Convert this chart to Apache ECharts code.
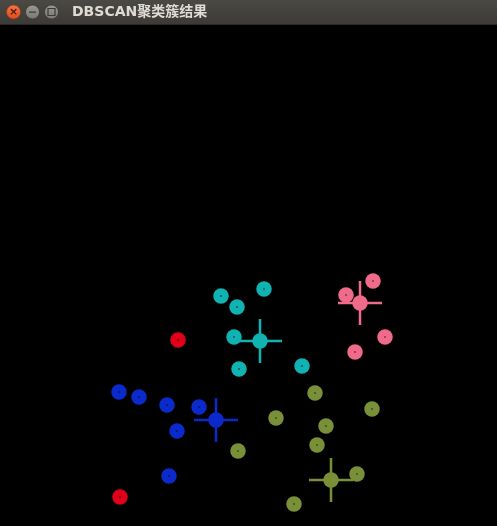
<!DOCTYPE html>
<html>
<head>
<meta charset="utf-8">
<script src="https://cdn.jsdelivr.net/npm/echarts@6/dist/echarts.min.js"></script>
<style>
html,body{margin:0;padding:0;background:#000;}
#chart{width:497px;height:526px;}
</style>
</head>
<body>
<div id="chart"></div>
<script>
// Window title
var windowTitle = 'DBSCAN聚类簇结果';

// Cluster points [x, y]
var cluster1 = [[221,296],[237,307],[264,289],[234,337],[239,369],[302,366]];
var cluster2 = [[373,281],[346,295],[385,337],[355,352]];
var cluster3 = [[119,392],[139,397],[167,405],[199,407],[177,431],[169,476]];
var cluster4 = [[315,393],[372,409],[276,418],[326,426],[317,445],[238,451],[357,474],[294,504]];
var noise = [[178,340],[120,497]];

// Cluster centres [x, y]
var center1 = [[260,341]];
var center2 = [[360,303]];
var center3 = [[216,420]];
var center4 = [[331,480]];

var colors = ['#10b2b2', '#f06a8a', '#0a2acc', '#7a9038', '#e0001a'];

var clusters = [cluster1, cluster2, cluster3, cluster4, noise];
var centers = [center1, center2, center3, center4];

var plusPath = 'path://M20.75,0h2.5v44h-2.5zM0,20.75h44v2.5h-44z';

var series = [];
clusters.forEach(function (pts, i) {
  series.push({
    type: 'scatter', data: pts, symbol: 'circle', symbolSize: 15.5,
    itemStyle: { color: colors[i], opacity: 1 }, silent: true, z: 2
  });
  series.push({
    type: 'scatter', data: pts, symbol: 'circle', symbolSize: 1.3,
    itemStyle: { color: '#000', opacity: 1 }, silent: true, z: 3
  });
});
centers.forEach(function (pts, i) {
  series.push({
    type: 'scatter', data: pts, symbol: plusPath, symbolSize: 44,
    itemStyle: { color: colors[i], opacity: 1 }, silent: true, z: 4
  });
  series.push({
    type: 'scatter', data: pts, symbol: 'circle', symbolSize: 15.5,
    itemStyle: { color: colors[i], opacity: 1 }, silent: true, z: 5
  });
});

var chart = echarts.init(document.getElementById('chart'), null, { renderer: 'canvas' });
chart.setOption({
  backgroundColor: '#000',
  animation: false,
  grid: { left: 0, right: 0, top: 25, bottom: 0 },
  xAxis: { type: 'value', min: 0, max: 497, show: false },
  yAxis: { type: 'value', min: 25, max: 526, inverse: true, show: false },
  graphic: [
    { type: 'rect', left: 0, top: 0, z: 100,
      shape: { width: 497, height: 25 },
      style: { fill: new echarts.graphic.LinearGradient(0, 0, 0, 1, [
        { offset: 0, color: '#4a4944' }, { offset: 1, color: '#3b3a36' }]) } },
    { type: 'rect', left: 0, top: 24, z: 101,
      shape: { width: 497, height: 1 }, style: { fill: '#2a2926' } },
    { type: 'circle', z: 102, shape: { cx: 13.5, cy: 12, r: 7 },
      style: { fill: new echarts.graphic.LinearGradient(0, 0, 0, 1, [
        { offset: 0, color: '#f07a4a' }, { offset: 1, color: '#df4a1c' }]), stroke: '#9a3a1a', lineWidth: 0.8 } },
    { type: 'text', z: 103, style: { text: '×', x: 13.5, y: 12, fill: '#4a1a0a', font: 'bold 11px "DejaVu Sans"', align: 'center', verticalAlign: 'middle' } },
    { type: 'circle', z: 102, shape: { cx: 32.5, cy: 12, r: 7 },
      style: { fill: new echarts.graphic.LinearGradient(0, 0, 0, 1, [
        { offset: 0, color: '#9a9892' }, { offset: 1, color: '#7a7873' }]), stroke: '#3a3935', lineWidth: 0.8 } },
    { type: 'rect', z: 103, shape: { x: 29, y: 11.5, width: 7, height: 1.2 }, style: { fill: '#3a3935' } },
    { type: 'circle', z: 102, shape: { cx: 51.5, cy: 12, r: 7 },
      style: { fill: new echarts.graphic.LinearGradient(0, 0, 0, 1, [
        { offset: 0, color: '#9a9892' }, { offset: 1, color: '#7a7873' }]), stroke: '#3a3935', lineWidth: 0.8 } },
    { type: 'rect', z: 103, shape: { x: 48, y: 8.5, width: 7, height: 7 }, style: { fill: 'none', stroke: '#3a3935', lineWidth: 1.2 } },
    { type: 'text', z: 103, style: { text: windowTitle, x: 72, y: 12.5, fill: '#dfdbd2', font: 'bold 14px "DejaVu Sans", "Noto Sans CJK SC"', verticalAlign: 'middle' } }
  ],
  series: series
});
</script>
</body>
</html>
